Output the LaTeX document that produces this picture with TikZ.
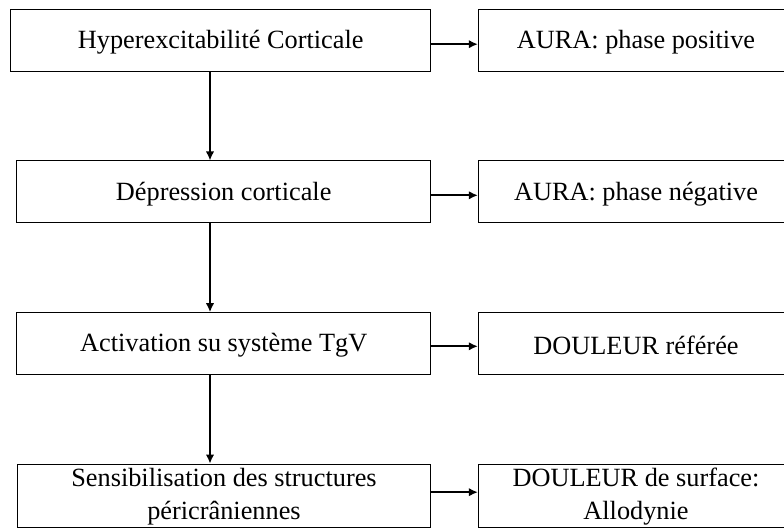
\documentclass[tikz,border=0pt]{standalone}
\usepackage{fontspec}
\setmainfont{Liberation Serif}
\usetikzlibrary{arrows.meta}
\begin{document}
\begin{tikzpicture}[x=1pt,y=-1pt,
  boxstyle/.style={draw=black,line width=0.9pt,rectangle,inner sep=0pt},
  lbl/.style={font=\fontsize{26.3}{33}\selectfont,align=center,inner sep=0pt},
  arr/.style={line width=2.2pt,-{Latex[length=9pt,width=8.5pt]}}]
\clip (0,0) rectangle (784,529);
% left boxes
\node[boxstyle,minimum width=420pt,minimum height=61.7pt] (b1) at (220.7,40.2) {};
\node[boxstyle,minimum width=414pt,minimum height=61.7pt] (b2) at (223.7,191.8) {};
\node[boxstyle,minimum width=414pt,minimum height=61.3pt] (b3) at (223.7,343.3) {};
\node[boxstyle,minimum width=413.4pt,minimum height=63.3pt] (b4) at (224,495.7) {};
% right boxes
\node[boxstyle,minimum width=310pt,minimum height=61.7pt] (r1) at (633.3,40.2) {};
\node[boxstyle,minimum width=310pt,minimum height=61.7pt] (r2) at (633.3,191.8) {};
\node[boxstyle,minimum width=310pt,minimum height=61.3pt] (r3) at (633.3,343.3) {};
\node[boxstyle,minimum width=310pt,minimum height=63.3pt] (r4) at (633.3,495.7) {};
% texts
\node[lbl] (t1) at (220.7,42) {Hyperexcitabilité Corticale};
\node[lbl] (t2) at (223.7,194) {Dépression corticale};
\node[lbl] (t3) at (223.7,345) {Activation su système TgV};
\node[lbl] (t4) at (224,497) {Sensibilisation des structures\\péricrâniennes};
\node[lbl] (u1) at (636,42) {AURA: phase positive};
\node[lbl] (u2) at (636,194) {AURA: phase négative};
\node[lbl] (u3) at (636,345) {DOULEUR référée};
\node[lbl] (u4) at (636,497) {DOULEUR de surface:\\Allodynie};
% vertical arrow axis
\coordinate (ax) at (210,0);
\draw[arr] (b1.south -| ax) -- (b2.north -| ax);
\draw[arr] (b2.south -| ax) -- (b3.north -| ax);
\draw[arr] (b3.south -| ax) -- (b4.north -| ax);
% horizontal arrows
\draw[arr] ([yshift=-4pt]b1.east) -- ([yshift=-4pt]r1.west);
\draw[arr] ([yshift=-3.5pt]b2.east) -- ([yshift=-3.5pt]r2.west);
\draw[arr] ([yshift=-3pt]b3.east) -- ([yshift=-3pt]r3.west);
\draw[arr] ([yshift=3.5pt]b4.east) -- ([yshift=3.5pt]r4.west);
\end{tikzpicture}
\end{document}
